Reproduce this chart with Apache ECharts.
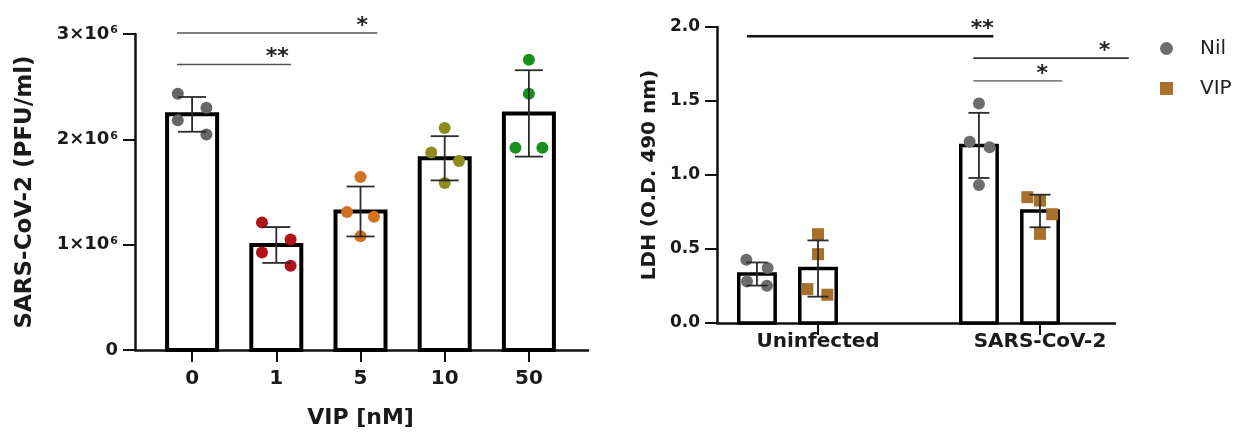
<!DOCTYPE html>
<html>
<head>
<meta charset="utf-8">
<script src="https://cdn.jsdelivr.net/npm/echarts@6.0.0/dist/echarts.min.js"></script>
<style>
  html, body { margin: 0; padding: 0; background: #fff; }
  #chart { width: 1241px; height: 432px; }
</style>
</head>
<body>
<div id="chart"></div>
<script>
// ---- left panel: virus titre vs VIP dose ----
var leftCats = ['0', '1', '5', '10', '50'];
var leftMeans = [2.237e6, 0.997e6, 1.315e6, 1.82e6, 2.246e6];
var leftSD = [0.165e6, 0.17e6, 0.237e6, 0.21e6, 0.41e6];
var leftPoints = [
    [2.433e6, 2.30e6, 2.18e6, 2.047e6],
    [1.21e6, 1.049e6, 0.926e6, 0.80e6],
    [1.643e6, 1.311e6, 1.264e6, 1.081e6],
    [2.107e6, 1.874e6, 1.794e6, 1.586e6],
    [2.755e6, 2.433e6, 1.921e6, 1.921e6]
];
// horizontal spread of the dots around each bar (category units)
var leftJitter = [
    [-0.17, 0.17, -0.17, 0.17],
    [-0.17, 0.17, -0.17, 0.17],
    [0, -0.16, 0.16, 0],
    [0, -0.16, 0.17, 0],
    [0, 0, -0.16, 0.16]
];
// [from, to, height, stars, star position]
var leftSig = [
    [-0.18, 1.175, 2.71e6, '**', 1.01],
    [-0.18, 2.2, 3.01e6, '*', 2.02]
];

// ---- right panel: LDH release ----
var rightCats = ['Uninfected', 'SARS-CoV-2'];
var groupNames = ['Nil', 'VIP'];
var nilMeans = [0.331, 1.2];
var nilSD = [0.078, 0.22];
var vipMeans = [0.368, 0.757];
var vipSD = [0.19, 0.11];
var nilPoints = [[0.427, 0.371, 0.281, 0.252], [1.483, 1.225, 1.187, 0.933]];
var nilJitter = [[-0.048, 0.048, -0.045, 0.045], [0, -0.042, 0.048, 0]];
var vipPoints = [[0.6, 0.465, 0.229, 0.191], [0.85, 0.827, 0.735, 0.602]];
var vipJitter = [[0, 0, -0.048, 0.042], [-0.057, 0, 0.055, 0]];
var rightSig = [
    [-0.32, 0.79, 1.937, '**', 0.74],
    [0.70, 1.40, 1.79, '*', 1.29],
    [0.70, 1.10, 1.636, '*', 1.01]
];

// styles / layout
var FONT = 'DejaVu Sans';
var INK = '#1a1a1a';
var leftColors = ['#666666', '#b3121a', '#d2711f', '#8e8b1e', '#17911c'];
var groupColors = ['#6c6c6c', '#a8702a'];
var groupSymbols = ['circle', 'rect'];
var slot = [-0.275, 0];      // Nil / VIP bar offset inside a group
var leftHalfBar = 0.297;     // half bar width, category units
var rightHalfBar = 0.082;
var leftSigStyle = [[1.6, '#555'], [1.6, '#555']];
var rightSigStyle = [[2.5, '#111'], [1.6, '#333'], [1.4, '#555']];

var chart = echarts.init(document.getElementById('chart'));

function errItem(capHalf) {
    return function (params, api) {
        var x = api.value(0), m = api.value(1), s = api.value(2);
        var top = api.coord([x, m + s]);
        var bot = api.coord([x, m - s]);
        var st = {stroke: '#2b2b2b', lineWidth: 1.8};
        return {
            type: 'group',
            children: [
                {type: 'line', shape: {x1: top[0], y1: top[1], x2: bot[0], y2: bot[1]}, style: st},
                {type: 'line', shape: {x1: top[0] - capHalf, y1: top[1], x2: top[0] + capHalf, y2: top[1]}, style: st},
                {type: 'line', shape: {x1: bot[0] - capHalf, y1: bot[1], x2: bot[0] + capHalf, y2: bot[1]}, style: st}
            ]
        };
    };
}

function sigItem(list, styles) {
    return function (params, api) {
        var d = list[params.dataIndex];
        var a = api.coord([d[0], d[2]]);
        var b = api.coord([d[1], d[2]]);
        var t = api.coord([d[4], d[2]]);
        var ls = styles[params.dataIndex];
        return {
            type: 'group',
            children: [
                {type: 'line', shape: {x1: a[0], y1: a[1], x2: b[0], y2: b[1]}, style: {stroke: ls[1], lineWidth: ls[0]}},
                {type: 'text', x: t[0], y: t[1] - 7, style: {
                    text: d[3], align: 'center', verticalAlign: 'middle',
                    font: 'bold 22px "DejaVu Sans"', fill: '#222'
                }}
            ]
        };
    };
}

function barItem(halfW, lw) {
    return function (params, api) {
        var x = api.value(0), v = api.value(1);
        var p0 = api.coord([x - halfW, v]);
        var p1 = api.coord([x + halfW, 0]);
        return {
            type: 'rect',
            shape: {x: p0[0], y: p0[1], width: p1[0] - p0[0], height: p1[1] - p0[1]},
            style: {fill: '#fff', stroke: '#000', lineWidth: lw}
        };
    };
}

var series = [];

// left panel
series.push({
    type: 'custom', xAxisIndex: 2, yAxisIndex: 1, z: 2, clip: false,
    renderItem: barItem(leftHalfBar, 4), encode: {x: 0, y: 1},
    data: leftMeans.map(function (m, i) { return [i, m]; })
});
leftPoints.forEach(function (vals, g) {
    series.push({
        type: 'scatter', xAxisIndex: 2, yAxisIndex: 1, symbolSize: 12, z: 3,
        itemStyle: {color: leftColors[g], opacity: 1},
        data: vals.map(function (v, k) { return [g + leftJitter[g][k], v]; })
    });
});
series.push({
    type: 'custom', xAxisIndex: 2, yAxisIndex: 1, z: 4, clip: false,
    renderItem: errItem(14), encode: {x: 0, y: 1},
    data: leftMeans.map(function (m, i) { return [i, m, leftSD[i]]; })
});
series.push({
    type: 'custom', xAxisIndex: 2, yAxisIndex: 1, z: 5, clip: false,
    renderItem: sigItem(leftSig, leftSigStyle), encode: {x: 0, y: 1},
    data: leftSig.map(function (d) { return [d[0], d[2]]; })
});

// right panel
var rightBars = [], rightErr = [];
[nilMeans, vipMeans].forEach(function (means, s) {
    var sds = s === 0 ? nilSD : vipSD;
    means.forEach(function (m, g) {
        rightBars.push([g + slot[s], m]);
        rightErr.push([g + slot[s], m, sds[g]]);
    });
});
series.push({
    type: 'custom', xAxisIndex: 5, yAxisIndex: 3, z: 2, clip: false,
    renderItem: barItem(rightHalfBar, 3.5), encode: {x: 0, y: 1}, data: rightBars
});
[[nilPoints, nilJitter], [vipPoints, vipJitter]].forEach(function (pair, s) {
    var data = [];
    pair[0].forEach(function (vals, g) {
        vals.forEach(function (v, k) { data.push([g + slot[s] + pair[1][g][k], v]); });
    });
    series.push({
        name: groupNames[s], type: 'scatter', xAxisIndex: 5, yAxisIndex: 3, z: 3,
        symbol: groupSymbols[s], symbolSize: 12,
        itemStyle: {color: groupColors[s], opacity: 1}, data: data
    });
});
series.push({
    type: 'custom', xAxisIndex: 5, yAxisIndex: 3, z: 4, clip: false,
    renderItem: errItem(10.5), encode: {x: 0, y: 1}, data: rightErr
});
series.push({
    type: 'custom', xAxisIndex: 5, yAxisIndex: 3, z: 5, clip: false,
    renderItem: sigItem(rightSig, rightSigStyle), encode: {x: 0, y: 1},
    data: rightSig.map(function (d) { return [d[0], d[2]]; })
});

var lineOnly = function (grid) {
    return {
        gridIndex: grid, type: 'value', min: 0, max: 1,
        axisLine: {show: true, onZero: false, lineStyle: {color: '#111', width: 2.5}},
        axisTick: {show: false}, axisLabel: {show: false}, splitLine: {show: false}
    };
};
var boldText = function (size) {
    return {fontFamily: FONT, fontWeight: 'bold', fontSize: size, color: INK};
};
var fixedGrid = function (l, t, w, h) {
    return {left: l, top: t, width: w, height: h, outerBoundsMode: 'none', containLabel: false};
};

var option = {
    animation: false,
    backgroundColor: '#fff',
    grid: [
        fixedGrid(135, 34, 453, 316),
        fixedGrid(150, 34, 421, 316),
        fixedGrid(717, 27, 398, 296),
        fixedGrid(707, 27, 444, 296)
    ],
    legend: {
        data: groupNames, orient: 'vertical', left: 1155, top: 32,
        itemWidth: 13, itemHeight: 13, itemGap: 17,
        textStyle: {fontFamily: FONT, fontSize: 20, color: '#222', padding: [0, 0, 0, 22], lineHeight: 23}
    },
    xAxis: [
        lineOnly(0),
        {
            gridIndex: 1, type: 'category', data: leftCats,
            axisLine: {show: false},
            axisTick: {show: true, alignWithLabel: true, length: 12, lineStyle: {color: '#111', width: 2}},
            axisLabel: Object.assign({margin: 19}, boldText(20)),
            name: 'VIP [nM]', nameLocation: 'middle', nameGap: 57, nameTextStyle: boldText(22)
        },
        {gridIndex: 1, type: 'value', min: -0.5, max: 4.5, show: false},
        lineOnly(2),
        {
            gridIndex: 3, type: 'category', data: rightCats,
            axisLine: {show: false},
            axisTick: {show: true, alignWithLabel: true, length: 12, lineStyle: {color: '#111', width: 2}},
            axisLabel: Object.assign({margin: 9}, boldText(20))
        },
        {gridIndex: 3, type: 'value', min: -0.5, max: 1.5, show: false}
    ],
    yAxis: [
        {
            gridIndex: 0, type: 'value', min: 0, max: 3e6, interval: 1e6,
            axisLine: {show: true, onZero: false, lineStyle: {color: '#111', width: 2.5}},
            axisTick: {show: true, length: 12, lineStyle: {color: '#111', width: 2}},
            splitLine: {show: false},
            axisLabel: {
                margin: 17,
                formatter: function (v) {
                    return v === 0 ? '{m|0}' : '{m|' + (v / 1e6) + '×10}{s|6}';
                },
                rich: {
                    m: boldText(18),
                    s: {fontFamily: FONT, fontWeight: 'bold', fontSize: 11, color: INK, verticalAlign: 'top', padding: [0, 0, 6, 1]}
                }
            },
            name: 'SARS-CoV-2 (PFU/ml)', nameLocation: 'middle', nameGap: 98,
            nameTextStyle: boldText(23)
        },
        {gridIndex: 1, type: 'value', min: 0, max: 3e6, show: false},
        {
            gridIndex: 2, type: 'value', min: 0, max: 2, interval: 0.5,
            axisLine: {show: true, onZero: false, lineStyle: {color: '#111', width: 2.5}},
            axisTick: {show: true, length: 12, lineStyle: {color: '#111', width: 2}},
            splitLine: {show: false},
            axisLabel: Object.assign({margin: 17, formatter: function (v) { return v.toFixed(1); }}, boldText(17)),
            name: 'LDH (O.D. 490 nm)', nameLocation: 'middle', nameGap: 57,
            nameTextStyle: boldText(20)
        },
        {gridIndex: 3, type: 'value', min: 0, max: 2, show: false}
    ],
    series: series
};

chart.setOption(option);
</script>
</body>
</html>
